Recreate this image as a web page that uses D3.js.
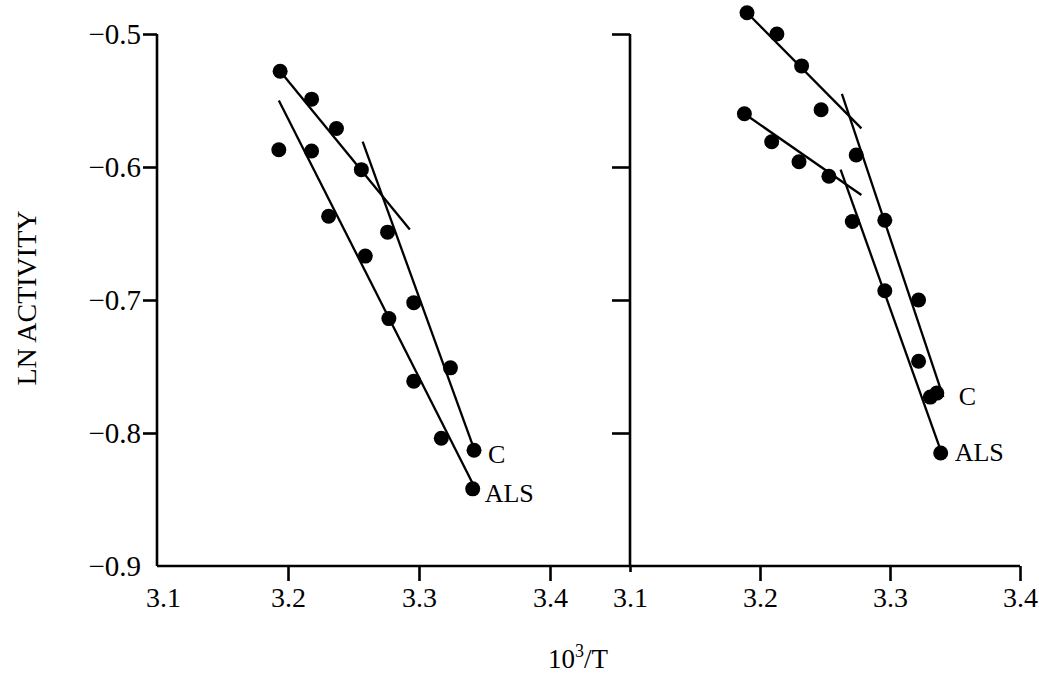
<!DOCTYPE html>
<meta charset="utf-8">
<style>
body { margin: 0; background: #fff; }
text { font-family: "Liberation Serif", "DejaVu Serif", serif; fill: #000; }
.axis path, .axis line { stroke: #000; stroke-width: 2.6px; }
.fit { stroke: #000; stroke-width: 2.3px; fill: none; }
</style>
<body>
<script src="https://d3js.org/d3.v7.min.js"></script>
<script>
var width = 1039, height = 676;

// tick labels
var xTicks = [3.1, 3.2, 3.3, 3.4];
var yTicks = [-0.9, -0.8, -0.7, -0.6, -0.5];

// left panel points [10^3/T, ln activity]
var leftC = [[3.194,-0.528],[3.218,-0.549],[3.237,-0.571],[3.256,-0.602],[3.276,-0.649],[3.296,-0.702],[3.324,-0.751],[3.342,-0.813]];
var leftALS = [[3.193,-0.587],[3.218,-0.588],[3.231,-0.637],[3.259,-0.667],[3.277,-0.714],[3.296,-0.761],[3.317,-0.804],[3.341,-0.842]];
// left panel fitted lines
var leftLines = [
  [[3.194,-0.528],[3.293,-0.647]],
  [[3.257,-0.581],[3.342,-0.812]],
  [[3.193,-0.550],[3.341,-0.838]]
];

// right panel points
var rightC = [[3.190,-0.484],[3.213,-0.500],[3.232,-0.524],[3.247,-0.557],[3.274,-0.591],[3.296,-0.640],[3.322,-0.700],[3.336,-0.770]];
var rightALS = [[3.188,-0.560],[3.209,-0.581],[3.230,-0.596],[3.253,-0.607],[3.271,-0.641],[3.296,-0.693],[3.322,-0.746],[3.331,-0.773],[3.339,-0.815]];
var rightLines = [
  [[3.190,-0.484],[3.278,-0.571]],
  [[3.263,-0.545],[3.341,-0.773]],
  [[3.188,-0.560],[3.278,-0.621]],
  [[3.262,-0.602],[3.339,-0.813]]
];

var svg = d3.select("body").append("svg")
    .attr("width", width)
    .attr("height", height);

var y = d3.scaleLinear().domain([-0.9, -0.5]).range([566, 34]);
var xLeft = d3.scaleLinear().domain([3.1, 3.4]).range([157, 550]);
var xRight = d3.scaleLinear().domain([3.1, 3.4]).range([630, 1020]);

// y axes
var yAxisL = svg.append("g").attr("class", "axis")
    .attr("transform", "translate(157,0)")
    .call(d3.axisLeft(y).tickValues(yTicks).tickSize(14).tickSizeOuter(0).tickPadding(2)
      .tickFormat(function(d) { return d3.format(".1f")(d).replace("-", "\u2212"); }));
yAxisL.selectAll("text").attr("font-size", 29).attr("font-family", "Liberation Serif");
yAxisL.select(".domain").remove();
yAxisL.append("line").attr("x1", 0).attr("x2", 0).attr("y1", y(-0.5)).attr("y2", y(-0.9));
// no tick at the corner
yAxisL.selectAll(".tick").filter(function(d) { return d === -0.9; }).select("line").remove();

var yAxisR = svg.append("g").attr("class", "axis")
    .attr("transform", "translate(630,0)")
    .call(d3.axisLeft(y).tickValues(yTicks.slice(1)).tickSize(18).tickFormat(""));
yAxisR.select(".domain").remove();
yAxisR.append("line").attr("x1", 0).attr("x2", 0).attr("y1", y(-0.5)).attr("y2", y(-0.9));

// x axes
function xAxis(scale, vals) {
  var g = svg.append("g").attr("class", "axis")
      .attr("transform", "translate(0," + y(-0.9) + ")")
      .call(d3.axisBottom(scale).tickValues(vals).tickSize(15).tickPadding(6).tickFormat(d3.format(".1f")));
  g.select(".domain").remove();
  g.selectAll("text").attr("font-size", 28).attr("font-family", "Liberation Serif");
  return g;
}
var xAxL = xAxis(xLeft, xTicks);
xAxL.selectAll(".tick").filter(function(d) { return d === 3.1; }).select("line").remove();
xAxL.selectAll(".tick").filter(function(d) { return d === 3.1; }).select("text").attr("x", 6);
var xAxR = xAxis(xRight, xTicks);
xAxR.selectAll(".tick").filter(function(d) { return d === 3.1; }).select("line").attr("y2", 6);
svg.append("line").attr("class", "fit")
    .attr("x1", xLeft(3.1)).attr("x2", xRight(3.4))
    .attr("y1", y(-0.9)).attr("y2", y(-0.9))
    .style("stroke-width", "2.6px");

function drawPanel(x, lines, c, als, labC, labALS) {
  var g = svg.append("g");
  g.selectAll("line.fit").data(lines).enter().append("line")
      .attr("class", "fit")
      .attr("x1", function(d) { return x(d[0][0]); })
      .attr("y1", function(d) { return y(d[0][1]); })
      .attr("x2", function(d) { return x(d[1][0]); })
      .attr("y2", function(d) { return y(d[1][1]); });
  g.selectAll("circle").data(c.concat(als)).enter().append("circle")
      .attr("cx", function(d) { return x(d[0]); })
      .attr("cy", function(d) { return y(d[1]); })
      .attr("r", 7.5)
      .attr("fill", "#000");
  var lc = c[c.length - 1], la = als[als.length - 1];
  g.append("text").attr("x", x(lc[0]) + labC[0]).attr("y", y(lc[1]) + labC[1])
      .attr("font-size", 26).text("C");
  g.append("text").attr("x", x(la[0]) + labALS[0]).attr("y", y(la[1]) + labALS[1])
      .attr("font-size", 26).text("ALS");
}
drawPanel(xLeft, leftLines, leftC, leftALS, [14, 13], [12, 13]);
drawPanel(xRight, rightLines, rightC, rightALS, [22, 12], [14, 8]);

// axis titles
svg.append("text")
    .attr("transform", "translate(36,298) rotate(-90)")
    .attr("text-anchor", "middle")
    .attr("font-size", 28)
    .text("LN ACTIVITY");

var xt = svg.append("text")
    .attr("x", 578).attr("y", 668)
    .attr("text-anchor", "middle")
    .attr("font-size", 27);
xt.append("tspan").text("10");
xt.append("tspan").attr("dy", -11).attr("font-size", 18).text("3");
xt.append("tspan").attr("dy", 11).text("/T");
</script>
